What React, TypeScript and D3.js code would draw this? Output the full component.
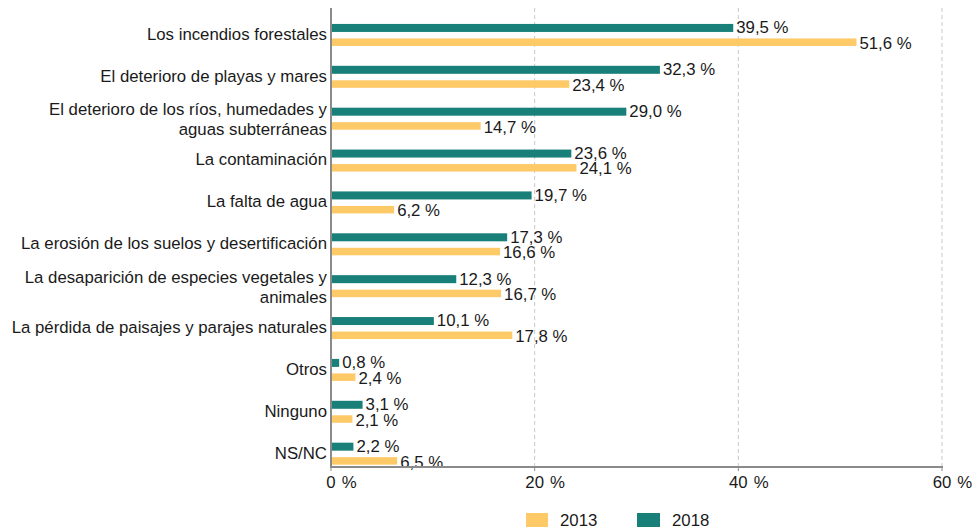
import React from "react";
import * as d3 from "d3";

const categories: string[][] = [
  ["Los incendios forestales"],
  ["El deterioro de playas y mares"],
  ["El deterioro de los ríos, humedades y", "aguas subterráneas"],
  ["La contaminación"],
  ["La falta de agua"],
  ["La erosión de los suelos y desertificación"],
  ["La desaparición de especies vegetales y", "animales"],
  ["La pérdida de paisajes y parajes naturales"],
  ["Otros"],
  ["Ninguno"],
  ["NS/NC"],
];
const values2018 = [39.5, 32.3, 29.0, 23.6, 19.7, 17.3, 12.3, 10.1, 0.8, 3.1, 2.2];
const values2013 = [51.6, 23.4, 14.7, 24.1, 6.2, 16.6, 16.7, 17.8, 2.4, 2.1, 6.5];
const xTicks = [0, 20, 40, 60];
const seriesNames = ["2013", "2018"];

const TEAL = "#187f79";
const YELLOW = "#fec967";
const FONT = "Liberation Sans, Arial, sans-serif";
const FS = 16.8;

export default function App() {
  const W = 973, H = 527;
  const x = d3.scaleLinear().domain([0, 60]).range([331, 942]);
  const keys = categories.map((_, i) => String(i));
  const y = d3.scaleBand<string>().domain(keys).range([14, 474.6]).padding(0);
  const axisY = 467;
  const fmt = (v: number) => v.toFixed(1).replace(".", ",") + " %";

  return (
    <svg width={W} height={H} style={{ position: "absolute", left: 0, top: 0 }} fontFamily={FONT}>
      {xTicks.filter((t) => t > 0).map((t) => (
        <line key={"g" + t} x1={x(t)} x2={x(t)} y1={8} y2={axisY} stroke="#c8c8c8" strokeWidth={1} strokeDasharray="4,3" />
      ))}
      {categories.map((lines, i) => {
        const c = (y(keys[i]) as number) + y.bandwidth() / 2;
        return (
          <g key={i}>
            <rect x={x(0)} y={c - 11} width={x(values2018[i]) - x(0)} height={8} fill={TEAL} />
            <rect x={x(0)} y={c + 3.5} width={x(values2013[i]) - x(0)} height={7.5} fill={YELLOW} />
            <text x={x(values2018[i]) + 3} y={c - 7.5} dy="0.35em" fontSize={FS} fill="#1a1a1a">{fmt(values2018[i])}</text>
            <text x={x(values2013[i]) + 3} y={c + 8} dy="0.35em" fontSize={FS} fill="#1a1a1a">{fmt(values2013[i])}</text>
            {lines.length === 1 ? (
              <text x={327} y={c - 1} dy="0.35em" textAnchor="end" fontSize={FS} fill="#1a1a1a">{lines[0]}</text>
            ) : (
              lines.map((l, j) => (
                <text key={j} x={327} y={c - 9.5 + j * 20} dy="0.35em" textAnchor="end" fontSize={FS} fill="#1a1a1a">{l}</text>
              ))
            )}
          </g>
        );
      })}
      <line x1={x(0)} x2={x(0)} y1={8} y2={axisY} stroke="#8a8a8a" strokeWidth={2} />
      <line x1={x(0) - 1} x2={x(60) + 1} y1={axisY} y2={axisY} stroke="#8a8a8a" strokeWidth={2} />
      {xTicks.map((t) => {
        const numW = String(t).length * 0.556 * FS;
        return (
          <g key={"t" + t}>
            <line x1={x(t)} x2={x(t)} y1={axisY} y2={axisY + 4} stroke="#8a8a8a" strokeWidth={1} />
            <text x={x(t) - numW / 2} y={482} dy="0.35em" textAnchor="start" fontSize={FS} fill="#1a1a1a">
              {String(t)}
              <tspan dx={6}>%</tspan>
            </text>
          </g>
        );
      })}
      <rect x={526} y={513} width={22} height={14} fill={YELLOW} />
      <text x={560} y={520} dy="0.35em" fontSize={FS} fill="#1a1a1a">{seriesNames[0]}</text>
      <rect x={637} y={513} width={23} height={14} fill={TEAL} />
      <text x={672} y={520} dy="0.35em" fontSize={FS} fill="#1a1a1a">{seriesNames[1]}</text>
    </svg>
  );
}
